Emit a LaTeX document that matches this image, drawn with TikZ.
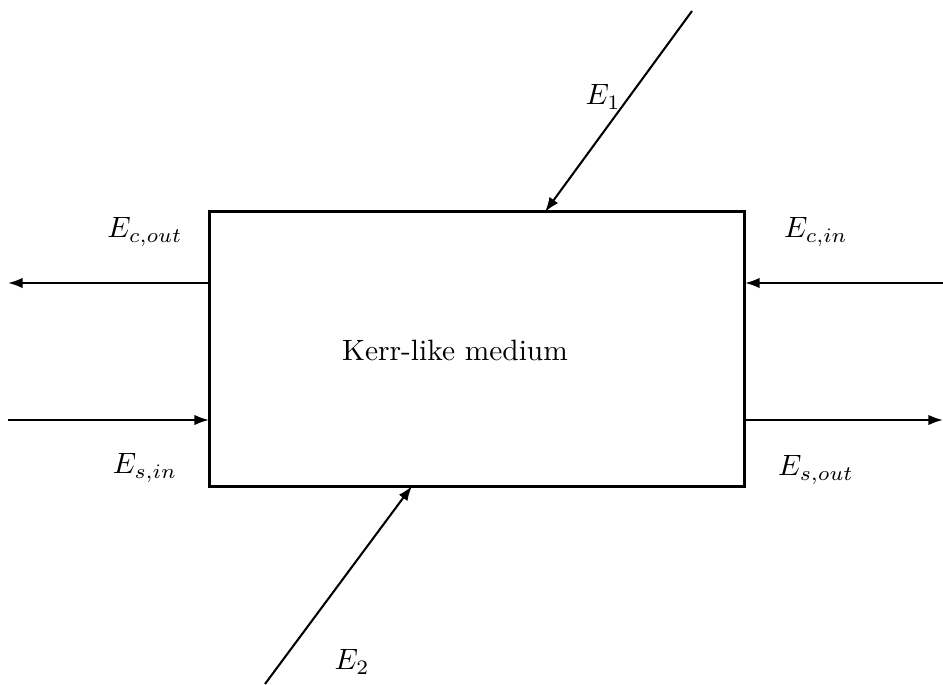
\documentclass[tikz,border=0pt]{standalone}
\usetikzlibrary{arrows.meta}
\begin{document}
\begin{tikzpicture}[x=0.34pt,y=-0.34pt,
  medium/.style={draw,line width=1pt,minimum width=182.2pt,minimum height=93.2pt,inner sep=0pt},
  beam/.style={line width=0.7pt,-{Latex[length=5pt,width=3.6pt]}},
  lbl/.style={inner sep=0pt}]
\useasboundingbox (0,0) rectangle (943,684);
% the Kerr-like medium
\node[medium] (box) at (477,349) {};
\node[lbl] (title) at (455,350) {Kerr-like medium};
% points where the beams meet the medium
\coordinate (p1) at (545,212);
\coordinate (p2) at (412,486);
\coordinate (cl) at (209,283);
\coordinate (cr) at (745,283);
\coordinate (sl) at (209,420);
\coordinate (sr) at (745,420);
% free ends of the beams
\coordinate (e1) at (692,11);
\coordinate (e2) at (265,684);
\coordinate (co) at (8,283);
\coordinate (ci) at (943,283);
\coordinate (si) at (8,420);
\coordinate (so) at (943,420);
% beams
\draw[beam] (e1) -- (p1);
\draw[beam] (e2) -- (p2);
\draw[beam] (cl) -- (co);
\draw[beam] (ci) -- (cr);
\draw[beam] (si) -- (sl);
\draw[beam] (sr) -- (so);
% labels
\node[lbl] (l1) at (603,97) {$E_1$};
\node[lbl] (l2) at (352,662) {$E_2$};
\node[lbl] (lco) at (145,232) {$E_{c,out}$};
\node[lbl] (lci) at (816,232) {$E_{c,in}$};
\node[lbl] (lsi) at (145,468) {$E_{s,in}$};
\node[lbl] (lso) at (816,470) {$E_{s,out}$};
\end{tikzpicture}
\end{document}
